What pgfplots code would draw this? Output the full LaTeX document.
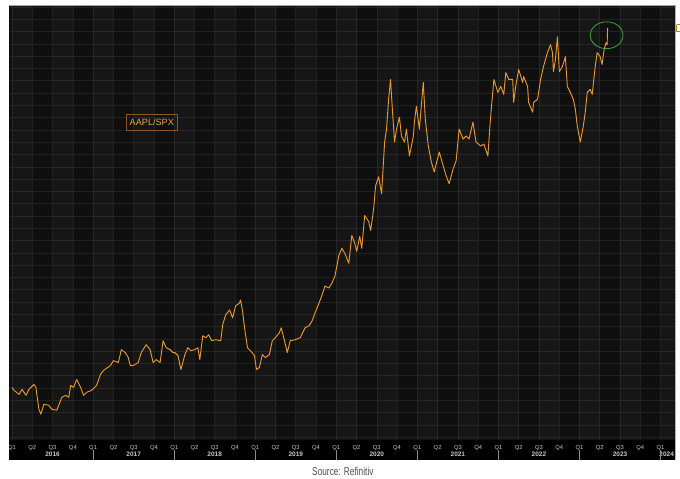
\documentclass[border=0pt]{standalone}
\usepackage{fontspec}
\setmainfont{Liberation Sans}
\newfontfamily\srcfont[FakeStretch=0.73]{Liberation Sans}
\usepackage{pgfplots}
\pgfplotsset{compat=1.18}
\definecolor{bgdark}{HTML}{0F0F0F}
\definecolor{gridc}{HTML}{212121}
\definecolor{linec}{HTML}{E8982E}
\definecolor{boxc}{HTML}{8A5A25}
\definecolor{boxt}{HTML}{E2A65A}
\definecolor{labc}{HTML}{C8C8C8}
\definecolor{circc}{HTML}{3DA33D}
\definecolor{srcc}{HTML}{505050}
\begin{document}
\begin{tikzpicture}[x=0.75pt,y=0.75pt]
\fill[white] (0,0) rectangle (680,482);
\coordinate (o) at (5,39);
\begin{axis}[at={(o)}, anchor=south west, scale only axis,
  width=502.5pt, height=328.5pt,
  xmin=2015.9632, xmax=2024.1740, ymin=0, ymax=438,
  axis background/.style={fill=bgdark},
  axis line style={draw=none},
  xtick={2016,2016.25,...,2024.1},
  ytick={2.9,15.27,...,438},
  xticklabels={}, yticklabels={},
  major tick length=0pt,
  grid=major, major grid style={gridc, line width=0.5pt}]
\pgfplotsinvokeforeach{2016,2017,2018,2019,2020,2021,2022,2023,2024}{
  \fill[white,opacity=0.03] (axis cs:#1,0) rectangle (axis cs:#1.25,438);
  \fill[white,opacity=0.03] (axis cs:#1.5,0) rectangle (axis cs:#1.75,438);
}
\addplot[color=linec, line width=0.7pt, line join=round, mark=none] coordinates {
(2016.000,53) (2016.025,50) (2016.086,46) (2016.123,51) (2016.172,45) (2016.208,51)
(2016.270,56) (2016.294,53) (2016.331,31) (2016.355,26) (2016.392,36) (2016.453,35)
(2016.490,31) (2016.551,30) (2016.576,35) (2016.613,43) (2016.662,45) (2016.699,43)
(2016.723,55) (2016.760,53) (2016.797,61) (2016.846,53) (2016.882,45) (2016.919,48)
(2016.980,50) (2017.042,55) (2017.091,66) (2017.127,70) (2017.213,75) (2017.250,80)
(2017.311,78) (2017.348,91) (2017.397,88) (2017.434,83) (2017.458,75) (2017.495,75)
(2017.556,78) (2017.593,88) (2017.654,96) (2017.703,91) (2017.740,78) (2017.777,81)
(2017.826,78) (2017.863,100) (2017.900,93) (2017.949,91) (2017.985,88) (2018.010,88)
(2018.047,85) (2018.083,71) (2018.132,86) (2018.169,93) (2018.206,90) (2018.255,91)
(2018.292,93) (2018.316,81) (2018.353,105) (2018.390,103) (2018.426,106) (2018.463,100)
(2018.512,101) (2018.574,100) (2018.598,116) (2018.635,126) (2018.684,131) (2018.721,123)
(2018.757,135) (2018.806,138) (2018.819,141) (2018.843,130) (2018.868,113) (2018.904,93)
(2018.941,90) (2018.990,85) (2019.015,71) (2019.051,73) (2019.088,86) (2019.125,83)
(2019.174,86) (2019.211,100) (2019.248,103) (2019.297,108) (2019.321,113) (2019.358,101)
(2019.395,88) (2019.431,100) (2019.493,101) (2019.554,103) (2019.615,113) (2019.664,115)
(2019.701,120) (2019.738,128) (2019.787,138) (2019.824,146) (2019.860,155) (2019.909,153)
(2019.946,158) (2019.983,165) (2020.032,186) (2020.069,193) (2020.105,188) (2020.154,178)
(2020.191,206) (2020.228,198) (2020.252,190) (2020.289,205) (2020.314,193) (2020.350,226)
(2020.399,220) (2020.424,211) (2020.461,233) (2020.485,256) (2020.522,265) (2020.559,248)
(2020.571,265) (2020.596,300) (2020.620,313) (2020.645,343) (2020.669,363) (2020.694,330)
(2020.718,300) (2020.743,313) (2020.779,325) (2020.804,306) (2020.841,300) (2020.865,313)
(2020.902,286) (2020.951,306) (2020.963,320) (2020.988,336) (2021.025,313) (2021.073,360)
(2021.098,323) (2021.135,296) (2021.172,280) (2021.208,270) (2021.270,290) (2021.319,276)
(2021.355,266) (2021.392,258) (2021.441,273) (2021.478,281) (2021.515,313) (2021.564,303)
(2021.600,306) (2021.637,303) (2021.686,320) (2021.723,300) (2021.784,296) (2021.821,298)
(2021.870,286) (2021.895,316) (2021.919,340) (2021.944,363) (2021.993,350) (2022.029,356)
(2022.066,348) (2022.091,370) (2022.127,363) (2022.176,363) (2022.188,340) (2022.213,356)
(2022.250,373) (2022.299,360) (2022.311,366) (2022.360,356) (2022.372,340) (2022.422,330)
(2022.434,340) (2022.483,343) (2022.520,363) (2022.556,376) (2022.605,390) (2022.642,398)
(2022.667,390) (2022.679,371) (2022.703,383) (2022.728,406) (2022.752,371) (2022.789,376)
(2022.826,386) (2022.850,356) (2022.887,350) (2022.924,343) (2022.949,333) (2022.973,316)
(2023.010,300) (2023.047,316) (2023.071,330) (2023.096,350) (2023.132,353) (2023.157,348)
(2023.194,376) (2023.218,390) (2023.255,386) (2023.279,378) (2023.304,393) (2023.328,400)
(2023.341,398) (2023.347,415)
};
\coordinate (pk) at (axis cs:2023.335,407.5);
\end{axis}
% borders
\draw[color=black!35, line width=0.6pt] (5,477) -- (676,477);
\draw[color=black!30, line width=0.8pt] (676,477) -- (676,19);
\draw[color=black!55, line width=0.4pt] (5,39) -- (675,39);
% bottom strip
\fill[black] (5,19) rectangle (675,39);
\begin{scope}
\clip (5,19) rectangle (675,39);
\foreach \k in {0,...,32} {
  \pgfmathsetmacro\xx{8+20.4*\k}
  \pgfmathtruncatemacro\q{mod(\k,4)+1}
  \node[text=labc, font=\fontsize{4.4}{5}\selectfont, inner sep=0pt] at (\xx,31.3) {Q\q};
}
\foreach \y [count=\i from 0] in {2016,...,2023} {
  \pgfmathsetmacro\xx{48.8+81.6*\i}
  \node[text=labc, font=\bfseries\fontsize{4.9}{5}\selectfont, inner sep=0pt] at (\xx,24.3) {\y};
}
\node[text=labc, font=\bfseries\fontsize{4.9}{5}\selectfont, inner sep=0pt, anchor=east] at (674.5,24.3) {2024};
\foreach \i in {1,...,8} {
  \pgfmathsetmacro\xx{8+81.6*\i}
  \draw[color=black!45, line width=0.4pt] (\xx,19) -- (\xx,29);
}
\end{scope}
% right edge marker
\draw[color=linec!80!black, line width=0.6pt] (677,450) -- (680,450) (677,457) -- (680,457) (677,450) -- (677,457);
% legend box
\node[draw=boxc, line width=0.6pt, text=boxt, font=\fontsize{6.9}{8}\selectfont,
  minimum width=38pt, minimum height=12pt, inner sep=1pt] at (148.7,358.7) {AAPL/SPX};
% highlight circle
\draw[color=circc, line width=0.6pt] (pk) ellipse [x radius=16.5, y radius=13.5];
% source
\node[text=srcc, font=\srcfont\fontsize{8.6}{10}\selectfont, inner sep=0pt] at (341,7) {Source: Refinitiv};
\end{tikzpicture}
\end{document}
